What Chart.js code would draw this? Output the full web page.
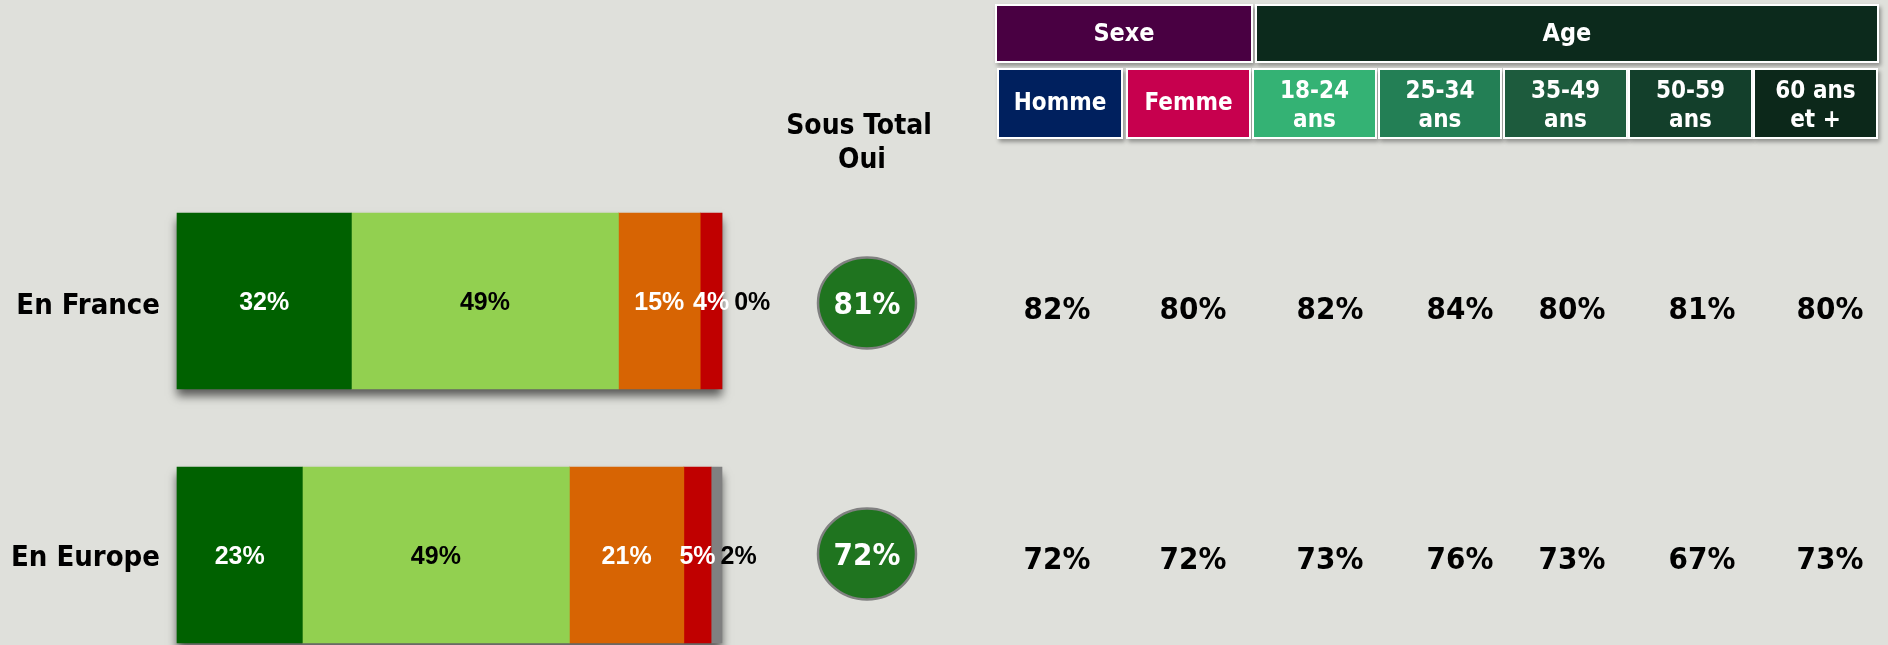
<!DOCTYPE html>
<html>
<head>
<meta charset="utf-8">
<script src="https://cdn.jsdelivr.net/npm/chart.js@4.4.0/dist/chart.umd.min.js"></script>
<style>
	html, body { margin: 0; padding: 0; background: #dfe0db; }
	#wrap { position: relative; width: 1888px; height: 645px; }
</style>
</head>
<body>
<div id="wrap"><canvas id="bar-chartcanvas-1" width="1888" height="645"></canvas></div>
<script>
var categories = ["En France", "En Europe"];
var seriesNames = ["Oui, tout à fait", "Oui, plutôt", "Non, plutôt pas", "Non, pas du tout", "NSP"];
var toutAFait = [32, 23];
var plutot = [49, 49];
var plutotPas = [15, 21];
var pasDuTout = [4, 5];
var nsp = [0, 2];
var sousTotalOui = [81, 72];

var groupLabels = ["Sexe", "Age"];
var columnLabels = [["Homme"], ["Femme"], ["18-24", "ans"], ["25-34", "ans"], ["35-49", "ans"], ["50-59", "ans"], ["60 ans", "et +"]];
var franceByColumn = [82, 80, 82, 84, 80, 81, 80];
var europeByColumn = [72, 72, 73, 76, 73, 67, 73];

var barColors = ["#006100", "#92d050", "#d76403", "#c00000", "#808080"];
var labelColors = ["#ffffff", "#000000", "#ffffff", "#ffffff", "#000000"];

var titleFont = '"DejaVu Sans Condensed", "DejaVu Sans", sans-serif';
var labelFont = '"Liberation Sans", Arial, sans-serif';

// header boxes: x, y, w, h, colour
var groupBoxes = [
	[997, 6, 254, 55, "#490042"],
	[1257, 6, 620, 55, "#0c2a1c"]
];
var columnBoxes = [
	[999, 70, 122, 67, "#00205e"],
	[1128, 70, 121, 67, "#c7004e"],
	[1254, 70, 121, 67, "#34b274"],
	[1380, 70, 120, 67, "#237f55"],
	[1505, 70, 121, 67, "#1d5b3d"],
	[1630, 70, 121, 67, "#133f2b"],
	[1755, 70, 121, 67, "#0c281a"]
];
var valueColumnsX = [1057, 1193, 1330, 1460, 1572, 1702, 1830];

function drawBox(ctx, b) {
	ctx.save();
	ctx.shadowColor = "rgba(0,0,0,0.35)";
	ctx.shadowBlur = 4;
	ctx.shadowOffsetX = 2;
	ctx.shadowOffsetY = 3;
	ctx.fillStyle = "#ffffff";
	ctx.fillRect(b[0] - 2, b[1] - 2, b[2] + 4, b[3] + 4);
	ctx.restore();
	ctx.fillStyle = b[4];
	ctx.fillRect(b[0], b[1], b[2], b[3]);
}

var surveyPlugin = {
	id: "survey",
	beforeDatasetsDraw: function(chart) {
		var ctx = chart.ctx;
		categories.forEach(function(c, i) {
			var first = chart.getDatasetMeta(0).data[i];
			var last = chart.getDatasetMeta(chart.data.datasets.length - 1).data[i];
			var h = first.height;
			ctx.save();
			ctx.shadowColor = "rgba(0,0,0,0.6)";
			ctx.shadowBlur = 9;
			ctx.shadowOffsetY = 7;
			ctx.fillStyle = "#808080";
			ctx.fillRect(first.base, first.y - h / 2, last.x - first.base, h);
			ctx.restore();
		});
	},
	afterDatasetsDraw: function(chart) {
		var ctx = chart.ctx;
		var ys = chart.scales.y;
		ctx.save();

		// segment labels, pushed right when they would overlap
		ctx.font = "bold 25px " + labelFont;
		ctx.textBaseline = "middle";
		ctx.textAlign = "left";
		categories.forEach(function(c, i) {
			var prevRight = -1000;
			chart.data.datasets.forEach(function(ds, d) {
				var el = chart.getDatasetMeta(d).data[i];
				var txt = ds.data[i] + "%";
				var w = ctx.measureText(txt).width;
				var left = (el.base + el.x) / 2 - w / 2;
				if (left < prevRight + 5) left = prevRight + 5;
				ctx.fillStyle = labelColors[d];
				ctx.fillText(txt, left, el.y + 2);
				prevRight = left + w;
			});
		});

		// category labels
		ctx.font = "bold 29px " + titleFont;
		ctx.fillStyle = "#000000";
		ctx.textAlign = "right";
		categories.forEach(function(c, i) {
			ctx.fillText(c, 160, ys.getPixelForValue(i) + (i === 0 ? 5 : 3));
		});

		// Sous Total title
		ctx.font = "bold 28px " + titleFont;
		ctx.textAlign = "center";
		ctx.textBaseline = "alphabetic";
		ctx.fillText("Sous Total", 859, 134);
		ctx.fillText("Oui", 862, 168);

		// circles
		categories.forEach(function(c, i) {
			var y = ys.getPixelForValue(i) + (i === 0 ? 2 : -1);
			ctx.beginPath();
			ctx.ellipse(867, y, 49, 45.5, 0, 0, Math.PI * 2);
			ctx.fillStyle = "#1f741f";
			ctx.fill();
			ctx.lineWidth = 2.5;
			ctx.strokeStyle = "#808080";
			ctx.stroke();
			ctx.font = "bold 31px " + titleFont;
			ctx.fillStyle = "#ffffff";
			ctx.textBaseline = "middle";
			ctx.fillText(sousTotalOui[i] + "%", 867, y + 3);
		});

		// header boxes
		groupBoxes.forEach(function(b, k) {
			drawBox(ctx, b);
			ctx.font = "bold 25px " + titleFont;
			ctx.fillStyle = "#ffffff";
			ctx.textBaseline = "alphabetic";
			ctx.fillText(groupLabels[k], b[0] + b[2] / 2, 41);
		});
		columnBoxes.forEach(function(b, k) {
			drawBox(ctx, b);
			ctx.font = "bold 24px " + titleFont;
			ctx.fillStyle = "#ffffff";
			ctx.textBaseline = "alphabetic";
			var lines = columnLabels[k];
			if (lines.length === 1) {
				ctx.fillText(lines[0], b[0] + b[2] / 2, 110);
			} else {
				ctx.fillText(lines[0], b[0] + b[2] / 2, 98);
				ctx.fillText(lines[1], b[0] + b[2] / 2, 127);
			}
		});

		// values by column
		ctx.font = "bold 31px " + titleFont;
		ctx.fillStyle = "#000000";
		ctx.textBaseline = "middle";
		[franceByColumn, europeByColumn].forEach(function(row, i) {
			var y = ys.getPixelForValue(i);
			row.forEach(function(v, k) {
				ctx.fillText(v + "%", valueColumnsX[k], y + (i === 0 ? 10 : 6));
			});
		});

		ctx.restore();
	}
};

var ctx = document.getElementById("bar-chartcanvas-1");

var seriesValues = [toutAFait, plutot, plutotPas, pasDuTout, nsp];

var data = {
	labels: categories,
	datasets: seriesValues.map(function(vals, d) {
		return {
			label: seriesNames[d],
			data: vals,
			backgroundColor: barColors[d],
			borderWidth: 0,
			barThickness: 176,
			clip: false
		};
	})
};

var options = {
	indexAxis: "y",
	responsive: false,
	animation: false,
	layout: {
		padding: { left: 177, right: 1166, top: 301, bottom: 90 }
	},
	scales: {
		x: { stacked: true, min: 0, max: 100, display: false },
		y: { stacked: true, offset: false, display: false }
	},
	plugins: {
		legend: { display: false },
		tooltip: { enabled: false }
	}
};

var chart = new Chart(ctx, {
	type: "bar",
	data: data,
	options: options,
	plugins: [surveyPlugin]
});
</script>
</body>
</html>
